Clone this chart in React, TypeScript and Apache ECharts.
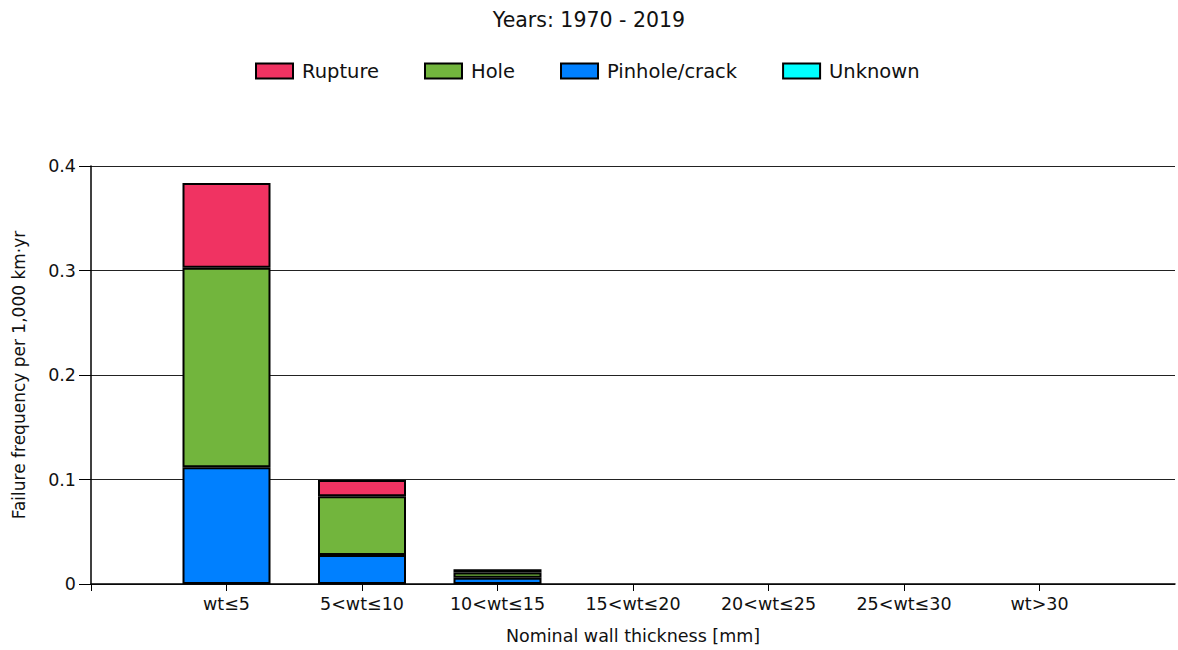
import React, { useEffect, useRef } from "react";
import * as echarts from "echarts";

const categories = ["wt≤5", "5<wt≤10", "10<wt≤15", "15<wt≤20", "20<wt≤25", "25<wt≤30", "wt>30"];
const unknown = [0, 0, 0, 0, 0, 0, 0];
const pinholeCrack = [0.1117, 0.0277, 0.006, 0, 0, 0, 0];
const hole = [0.191, 0.0563, 0.005, 0, 0, 0, 0];
const rupture = [0.081, 0.0155, 0.003, 0, 0, 0, 0];
const yTicks = [0, 0.1, 0.2, 0.3, 0.4];

const FONT = "DejaVu Sans";

export default function App() {
  const ref = useRef<HTMLDivElement>(null);
  useEffect(() => {
    if (!ref.current) return;
    const chart = echarts.init(ref.current, undefined, { renderer: "svg" });
    const axisData = ["", ...categories, ""];
    const pad = (arr: number[]) => ["-", ...arr.map((v) => (v === 0 ? "-" : v)), "-"];
    const mk = (name: string, data: number[], color: string) => ({
      name,
      type: "bar",
      stack: "total",
      barWidth: 88,
      data: pad(data),
      itemStyle: { color, borderColor: "#000", borderWidth: 2 },
    });
    chart.setOption({
      animation: false,
      textStyle: { fontFamily: FONT },
      title: {
        text: "Years: 1970 - 2019",
        left: "center",
        top: 4,
        textStyle: { fontFamily: FONT, fontSize: 20.5, fontWeight: "normal", color: "#111" },
      },
      legend: {
        left: 255,
        top: 61,
        padding: 0,
        icon: "rect",
        itemWidth: 37,
        itemHeight: 15,
        itemGap: 45,
        data: ["Rupture", "Hole", "Pinhole/crack", "Unknown"],
        textStyle: { fontFamily: FONT, fontSize: 19.5, color: "#111", padding: [0, 0, 0, 4] },
      },
      grid: { left: 91, right: -2, top: 166, bottom: 65, containLabel: false },
      xAxis: {
        type: "category",
        data: axisData,
        boundaryGap: false,
        name: "Nominal wall thickness [mm]",
        nameLocation: "middle",
        nameGap: 43,
        nameTextStyle: { fontFamily: FONT, fontSize: 17.5, color: "#111" },
        axisLine: { lineStyle: { color: "#000", width: 1.5 } },
        axisTick: {
          show: true,
          interval: (index: number) => index < axisData.length - 1,
          length: 7,
          lineStyle: { color: "#000" },
        },
        axisLabel: { interval: 0, margin: 11, fontFamily: FONT, fontSize: 17.5, color: "#111" },
        splitLine: { show: false },
      },
      yAxis: {
        type: "value",
        min: 0,
        max: 0.4,
        interval: 0.1,
        name: "Failure frequency per 1,000 km·yr",
        nameLocation: "middle",
        nameGap: 64,
        nameTextStyle: { fontFamily: FONT, fontSize: 17, color: "#111" },
        axisLine: { show: true, lineStyle: { color: "#000", width: 1.5 } },
        axisTick: { show: true, length: 12, lineStyle: { color: "#000" } },
        axisLabel: {
          margin: 15,
          fontFamily: FONT,
          fontSize: 17.5,
          color: "#111",
          formatter: (v: number) => {
            const t = yTicks.find((x) => Math.abs(x - v) < 1e-9);
            return t === undefined ? "" : String(t);
          },
        },
        splitLine: { show: true, lineStyle: { color: "#222", width: 1.2 } },
      },
      series: [
        mk("Unknown", unknown, "#00FFFF"),
        mk("Pinhole/crack", pinholeCrack, "#0080FF"),
        mk("Hole", hole, "#72B53D"),
        mk("Rupture", rupture, "#F03362"),
      ],
    });
    return () => chart.dispose();
  }, []);
  return (
    <div
      ref={ref}
      style={{ position: "fixed", left: 0, top: 0, width: 1178, height: 650, background: "#fff" }}
    />
  );
}
